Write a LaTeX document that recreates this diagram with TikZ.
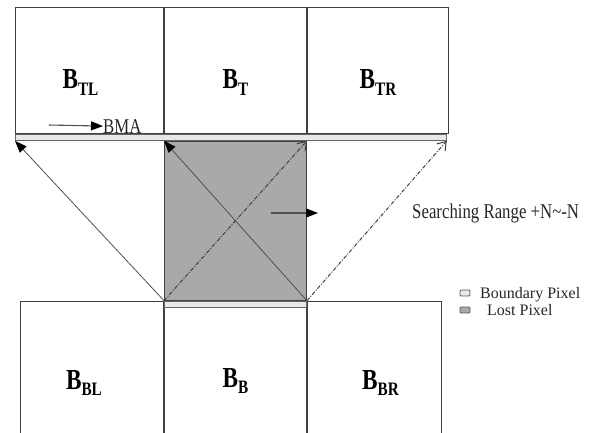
\documentclass[tikz,border=0pt]{standalone}
\usepackage{fontspec}
\setmainfont{Liberation Serif}
\newfontfamily\narrowserif[FakeStretch=0.8]{Liberation Serif}
\usetikzlibrary{arrows.meta,positioning,calc}
\definecolor{edgegray}{HTML}{404040}
\definecolor{lostgray}{HTML}{A9A9A9}
\definecolor{boundgray}{HTML}{E8E8E8}
\definecolor{arrgray}{HTML}{505050}
\tikzset{
  block/.style={rectangle,draw=edgegray,line width=1pt,inner sep=0pt,anchor=north west},
  stripbox/.style={rectangle,draw=gray!80!black,fill=boundgray,line width=0.8pt,inner sep=0pt,
    minimum height=6pt,anchor=north west},
  lostblk/.style={rectangle,draw=edgegray,fill=lostgray,line width=0.9pt,inner sep=0pt,anchor=north west},
  blabel/.style={font=\fontsize{29}{30}\narrowserif\bfseries,inner sep=0pt},
  lbl/.style={font=\fontsize{21}{24}\narrowserif,text=black!85,inner sep=0pt},
  leglbl/.style={font=\fontsize{16}{17}\selectfont,text=black!85,inner sep=0pt},
  legbox/.style={rectangle,rounded corners=1pt,draw=gray!70!black,line width=0.8pt,
    minimum width=10pt,minimum height=6pt,inner sep=0pt},
  solidarrow/.style={-{Triangle[length=12pt,width=9pt,color=black]},line width=0.8pt,draw=arrgray},
  searcharrow/.style={-{Straight Barb[length=8pt,width=11pt,line width=1pt]},line width=1pt,
    draw=arrgray!80!black,dash pattern=on 4pt off 1.5pt on 1pt off 1.5pt},
}
\newcommand{\blk}[2]{B\raisebox{-0.22em}{\fontsize{19}{20}\selectfont #1}#2}

\begin{document}
\begin{tikzpicture}[x=1pt,y=-1pt]
  \useasboundingbox (0,0) rectangle (595,432);
  % upper row of blocks
  \node[block,minimum width=148pt,minimum height=126pt] (btl) at (15,7) {};
  \node[block,minimum width=142pt,minimum height=126pt,right=0pt of btl,anchor=west] (bt) {};
  \node[block,minimum width=141pt,minimum height=126pt,right=0pt of bt,anchor=west] (btr) {};
  \node[stripbox,minimum width=431pt] (bstrip) at (btl.south west) {};
  % lost block
  \node[lostblk,minimum width=142pt,minimum height=159pt] (lost) at (bt.west |- bstrip.south) {};
  % lower row of blocks
  \node[block,minimum width=142pt,minimum height=132pt] (bb) at (lost.south west) {};
  \node[block,minimum width=143pt,minimum height=132pt,left=0pt of bb,anchor=east] (bbl) {};
  \node[block,minimum width=134pt,minimum height=132pt,right=0pt of bb,anchor=west] (bbr) {};
  \node[stripbox,minimum width=142pt] (lstrip) at (lost.south west) {};

  \node[blabel] at ([xshift=-9pt,yshift=-12pt]btl.center) {\blk{TL}{}};
  \node[blabel] at ([yshift=-12pt]bt.center) {\blk{T}{}};
  \node[blabel] at ([yshift=-12pt]btr.center) {\blk{TR}{}};
  \node[blabel] at ([xshift=-8pt,yshift=-16pt]bbl.center) {\blk{BL}{}};
  \node[blabel] at ([yshift=-14pt]bb.center) {\blk{B}{}};
  \node[blabel] at ([xshift=6pt,yshift=-16pt]bbr.center) {\blk{BR}{}};

  % matching directions
  \draw[solidarrow] (lost.south west) -- (bstrip.south west);
  \draw[solidarrow] (lost.south east) -- (lost.north west);
  \draw[searcharrow] (lost.south west) -- (lost.north east);
  \draw[searcharrow] (lost.south east) -- (bstrip.south east);

  \coordinate (mvtail) at (271,213);
  \coordinate (mvhead) at (318,213);
  \draw[solidarrow,line width=1.3pt] (mvtail) -- (mvhead);

  \node[lbl,anchor=base west] (bma) at (103,133) {BMA};
  \coordinate (bmatail) at (49,125);
  \draw[solidarrow,line width=1.1pt] (bmatail) -- (bma.west);

  \node[lbl,anchor=west] (range) at (412,213) {Searching Range +N\textasciitilde-N};

  % legend
  \node[legbox,fill=boundgray] (legbound) at (465,293) {};
  \node[legbox,fill=lostgray] (leglost) at (465,310) {};
  \node[leglbl,anchor=base west] at ([xshift=15pt,yshift=-5pt]legbound.center) {Boundary Pixel};
  \node[leglbl,anchor=base west] at ([xshift=22pt,yshift=-5pt]leglost.center) {Lost Pixel};
\end{tikzpicture}
\end{document}
